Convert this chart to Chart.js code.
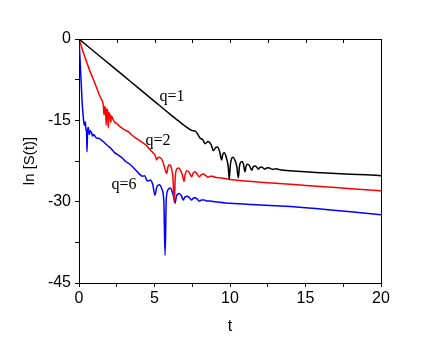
<!DOCTYPE html>
<html>
<head>
<meta charset="utf-8">
<script src="https://cdn.jsdelivr.net/npm/chart.js@4.4.0/dist/chart.umd.min.js"></script>
<style>
  html, body { margin: 0; padding: 0; background: #fff; }
  canvas { display: block; }
</style>
</head>
<body>
<canvas id="chart" width="443" height="339"></canvas>
<script>
// q=1
const t1 = [
  0, 1, 2, 3, 4, 5, 6, 6.5,
  7, 7.3, 7.5, 7.7, 7.85, 8.0, 8.2, 8.35,
  8.55, 8.75, 8.9, 9.05, 9.15, 9.3, 9.45, 9.52,
  9.62, 9.75, 9.88, 9.95, 10.02, 10.1, 10.2, 10.32,
  10.45, 10.55, 10.63, 10.72, 10.8, 10.9, 10.99, 11.07,
  11.18, 11.3, 11.44, 11.53, 11.64, 11.76, 11.87, 11.97,
  12.1, 12.2, 12.32, 12.43, 12.55, 12.7, 12.85, 13.0,
  13.3, 14, 15, 16, 17, 18, 19, 20,
];
const s1 = [
  0, -2.3, -4.6, -6.9, -9.2, -11.5, -13.8, -14.9,
  -16.0, -16.6, -16.9, -17.0, -17.5, -18.2, -18.6, -19.3,
  -18.9, -19.5, -20.6, -20.0, -19.9, -20.6, -22.3, -21.3,
  -21.0, -21.8, -23.5, -25.8, -23.3, -22.1, -21.8, -22.3,
  -23.5, -25.6, -23.4, -22.7, -22.6, -23.2, -24.5, -23.4,
  -23.1, -23.4, -24.2, -23.6, -23.4, -23.6, -24.0, -23.7,
  -23.6, -23.8, -24.0, -23.8, -23.75, -23.9, -24.05, -23.95,
  -24.1, -24.3, -24.5, -24.65, -24.8, -24.95, -25.05, -25.2,
];

// q=2
const t2 = [
  0, 0.3, 0.68, 1.13, 1.39, 1.52, 1.61, 1.66,
  1.7, 1.76, 1.8, 1.84, 1.9, 1.94, 1.98, 2.05,
  2.1, 2.15, 2.27, 2.35, 2.5, 2.65, 2.83, 3.05,
  3.27, 3.5, 3.71, 3.95, 4.2, 4.45, 4.7, 4.9,
  5.05, 5.14, 5.25, 5.4, 5.55, 5.7, 5.8, 5.9,
  6.0, 6.12, 6.22, 6.31, 6.38, 6.5, 6.62, 6.75,
  6.87, 6.95, 7.03, 7.15, 7.3, 7.46, 7.55, 7.68,
  7.82, 7.97, 8.1, 8.25, 8.4, 8.55, 8.7, 8.85,
  9.0, 9.3, 10, 11, 12, 13, 14, 15,
  16, 17, 18, 19, 20,
];
const s2 = [
  0, -2.6, -5.6, -8.7, -10.6, -11.3, -12.2, -14.0,
  -12.5, -13.0, -15.9, -12.9, -13.4, -16.4, -13.6, -14.0,
  -15.4, -14.2, -14.9, -15.3, -15.6, -16.0, -16.4, -16.8,
  -17.1, -17.7, -18.2, -18.6, -19.1, -19.6, -20.4, -21.0,
  -21.5, -22.3, -21.8, -21.9, -22.6, -24.0, -24.8, -23.5,
  -23.2, -23.8, -25.5, -30.0, -25.3, -23.9, -23.8, -24.4,
  -25.3, -26.3, -25.0, -24.3, -24.6, -25.4, -24.8, -24.5,
  -24.9, -25.4, -25.0, -24.9, -25.2, -25.5, -25.3, -25.3,
  -25.5, -25.6, -25.9, -26.2, -26.4, -26.6, -26.8, -27.0,
  -27.2, -27.4, -27.6, -27.8, -28.0,
];

// q=6
const t3 = [
  0, 0.1, 0.2, 0.29, 0.35, 0.42, 0.46, 0.5,
  0.53, 0.57, 0.62, 0.68, 0.74, 0.79, 0.85, 0.9,
  0.96, 1.01, 1.08, 1.17, 1.3, 1.46, 1.6, 1.79,
  2.0, 2.12, 2.34, 2.6, 2.85, 3.1, 3.4, 3.77,
  4.04, 4.22, 4.35, 4.48, 4.6, 4.72, 4.88, 5.03,
  5.15, 5.32, 5.48, 5.62, 5.7, 5.78, 5.9, 6.03,
  6.18, 6.3, 6.36, 6.45, 6.64, 6.78, 6.9, 7.0,
  7.17, 7.32, 7.46, 7.55, 7.68, 7.82, 7.97, 8.1,
  8.3, 8.5, 8.68, 9.0, 10, 12, 14, 15,
  16, 18, 20,
];
const s3 = [
  0, -5.5, -11.3, -14.6, -15.9, -15.3, -16.6, -17.2,
  -20.8, -16.8, -16.3, -17.6, -16.9, -17.1, -17.5, -17.9,
  -17.6, -17.7, -18.0, -18.3, -18.3, -18.6, -18.9, -19.4,
  -19.9, -20.2, -20.9, -21.4, -21.9, -22.6, -23.2, -24.2,
  -25.0, -25.3, -25.2, -26.0, -26.2, -26.0, -26.8, -28.8,
  -27.3, -26.9, -27.6, -30.0, -39.9, -29.5, -27.8, -27.5,
  -28.2, -29.5, -30.3, -29.0, -28.5, -28.9, -29.7, -29.2,
  -29.0, -29.3, -29.7, -29.4, -29.3, -29.5, -29.9, -29.7,
  -29.7, -29.9, -29.9, -30.0, -30.3, -30.6, -30.9, -31.1,
  -31.35, -31.85, -32.4,
];

const xLabels = [0, 5, 10, 15, 20];
const yLabels = [0, -15, -30, -45];
const curveNames = ['q=1', 'q=2', 'q=6'];
const curveNameAt = [[6.16, -10.7], [5.23, -18.8], [2.98, -26.9]];

const sans = '"Liberation Sans", Arial, Helvetica, sans-serif';
const toPoints = (ts, ss) => ts.map((t, i) => ({ x: t, y: ss[i] }));

// рамка сверху/справа, внутренние засечки сверху и подписи кривых
const extras = {
  id: 'extras',
  afterDatasetsDraw(chart) {
    const { ctx, chartArea: a, scales: { x, y } } = chart;
    ctx.save();
    ctx.strokeStyle = '#000';
    ctx.lineWidth = 1;
    ctx.beginPath();
    ctx.moveTo(a.left, a.top + 0.5);
    ctx.lineTo(a.right + 0.5, a.top + 0.5);
    ctx.lineTo(a.right + 0.5, a.bottom);
    x.ticks.forEach((tk) => {
      const px = Math.round(x.getPixelForValue(tk.value)) + 0.5;
      ctx.moveTo(px, a.top);
      ctx.lineTo(px, a.top + 4);
    });
    ctx.stroke();

    ctx.font = '16px "Liberation Serif", "Times New Roman", serif';
    ctx.fillStyle = '#000';
    ctx.textAlign = 'center';
    ctx.textBaseline = 'middle';
    curveNames.forEach((name, i) => {
      const [t, v] = curveNameAt[i];
      ctx.fillText(name, x.getPixelForValue(t), y.getPixelForValue(v));
    });
    ctx.restore();
  },
};

const line = (label, data, color) => ({
  label: label,
  data: data,
  borderColor: color,
  backgroundColor: color,
  borderWidth: 1.5,
  pointRadius: 0,
  cubicInterpolationMode: 'monotone',
  fill: false,
});

new Chart(document.getElementById('chart'), {
  type: 'line',
  data: {
    datasets: [
      line('q=1', toPoints(t1, s1), '#000000'),
      line('q=2', toPoints(t2, s2), '#ff0000'),
      line('q=6', toPoints(t3, s3), '#0000ff'),
    ],
  },
  options: {
    responsive: false,
    animation: false,
    layout: { padding: { top: 39, right: 62, left: 0, bottom: 0 } },
    plugins: {
      legend: { display: false },
      tooltip: { enabled: false },
    },
    scales: {
      x: {
        type: 'linear',
        min: 0,
        max: 20,
        afterFit: (s) => { s.height = 56; },
        ticks: {
          stepSize: 2.5,
          autoSkip: false,
          maxRotation: 0,
          padding: 2,
          color: '#000',
          font: { family: sans, size: 16 },
          callback: (v) => (xLabels.includes(v) ? String(v) : ''),
        },
        grid: { drawOnChartArea: false, drawTicks: true, tickLength: 4, color: '#000' },
        border: { color: '#000', width: 1 },
        title: {
          display: true,
          text: 't',
          color: '#000',
          font: { family: sans, size: 16 },
          padding: { top: 0, bottom: 3 },
        },
      },
      y: {
        min: -45,
        max: 0,
        afterFit: (s) => { s.width = 79; },
        ticks: {
          stepSize: 7.5,
          autoSkip: false,
          padding: 4,
          color: '#000',
          font: { family: sans, size: 16 },
          callback: (v) => (yLabels.includes(v) ? String(v) : ''),
        },
        grid: { drawOnChartArea: false, drawTicks: true, tickLength: 4, color: '#000' },
        border: { color: '#000', width: 1 },
        title: {
          display: true,
          text: 'ln [S(t)]',
          color: '#000',
          font: { family: sans, size: 15 },
          padding: { top: 21, bottom: 0 },
        },
      },
    },
  },
  plugins: [extras],
});
</script>
</body>
</html>
